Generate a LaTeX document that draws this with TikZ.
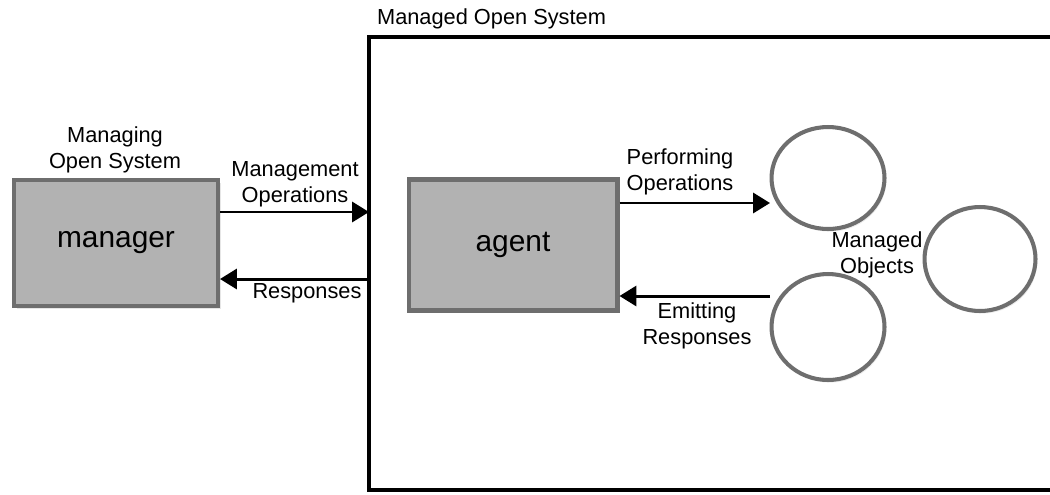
\documentclass[tikz,border=0pt]{standalone}
\usepackage{fontspec}
\setmainfont{Liberation Sans}
\usetikzlibrary{arrows.meta, shapes.geometric, shadows}
\definecolor{boxgray}{RGB}{178,178,178}
\definecolor{edgegray}{RGB}{110,110,110}

\begin{document}
\begin{tikzpicture}[x=0.02cm,y=-0.02cm,>={Triangle[length=9.6pt,width=11.4pt]},
  every node/.style={font=\fontsize{12.4}{15}\selectfont,align=center,inner sep=1pt},
  box/.style={shape=rectangle,draw=edgegray,fill=boxgray,line width=2.3pt,minimum width=4.08cm,minimum height=2.52cm,font=\fontsize{17}{20}\selectfont,
    drop shadow={opacity=0.2,shadow xshift=1.5pt,shadow yshift=-1.5pt}},
  obj/.style={shape=ellipse,draw=edgegray,fill=white,line width=2.3pt,minimum width=2.26cm,minimum height=2.04cm,
    drop shadow={opacity=0.15,shadow xshift=1pt,shadow yshift=-1.5pt}},
  flow/.style={->,line width=1.7pt}
]
\useasboundingbox (0,0) rectangle (1050,494);
\clip (0,0) rectangle (1050,494);
% managed open system frame
\draw[line width=2.8pt] (369,37) rectangle (1080,490);
\node[anchor=west] (nT) at (375,19) {Managed Open System};
\coordinate (cOut) at (369,212);
\coordinate (cIn) at (369,279);

\node[box] (nM) at (116,243) {manager};
\node[box,minimum width=4.18cm,minimum height=2.62cm] (nA) at (513,245) {agent};

\node[obj] (nO1) at (828,178) {};
\node[obj,minimum width=2.22cm,minimum height=2.08cm] (nO2) at (980,259) {};
\node[obj,minimum height=2.12cm] (nO3) at (828,327) {};
\coordinate (cPerf) at (770,203);
\coordinate (cEmit) at (770,296);

\draw[flow] (nM.east |- cOut) -- (cOut);
\draw[flow] (cIn) -- (nM.east |- cIn);
\draw[flow] (nA.east |- cPerf) -- (cPerf);
\draw[flow] (cEmit) -- (nA.east |- cEmit);

\node (nL1) at (115,150) {Managing\\Open System};
\node (nL2) at (295,184) {Management\\Operations};
\node (nL3) at (307,293) {Responses};
\node (nL4) at (680,172) {Performing\\Operations};
\node (nL5) at (697,326) {Emitting\\Responses};
\node (nL6) at (877,255) {Managed\\Objects};
\end{tikzpicture}
\end{document}
